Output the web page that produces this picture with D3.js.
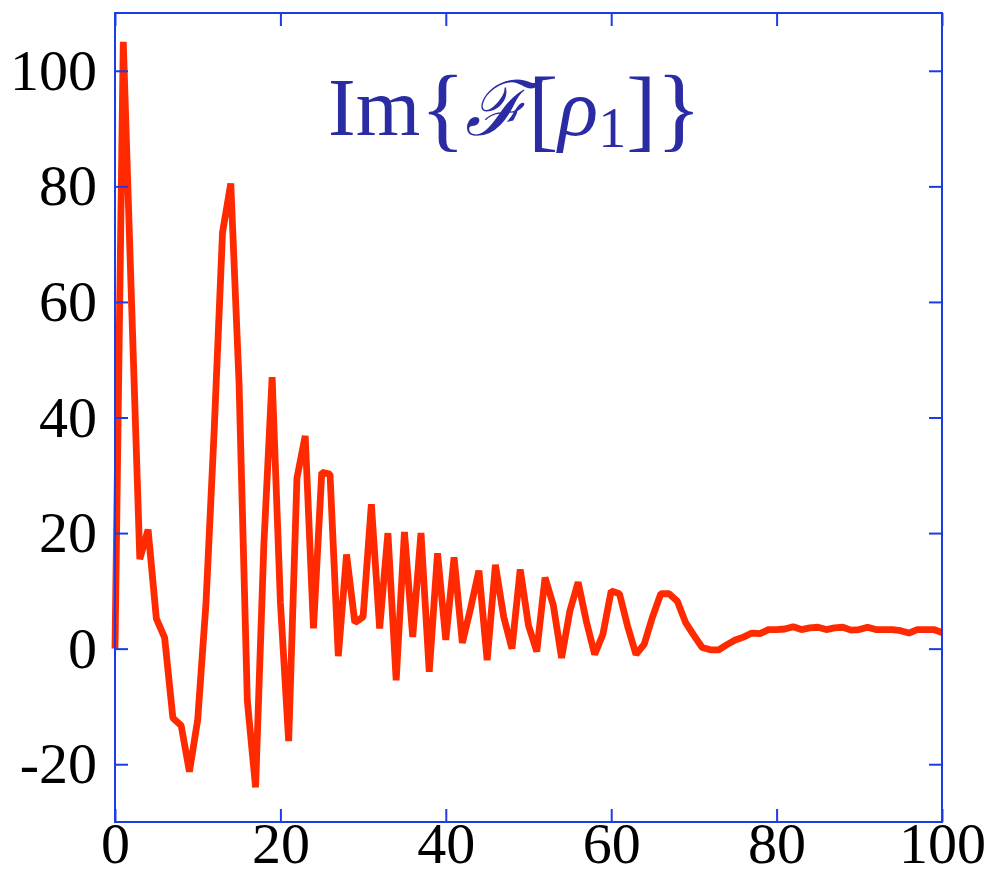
<!DOCTYPE html>
<html>
<head>
<meta charset="utf-8">
<script src="https://cdn.jsdelivr.net/npm/d3@7"></script>
<style>
  html, body { margin: 0; padding: 0; background: #fff; }
  svg { display: block; }
</style>
</head>
<body>
<svg id="chart" width="984" height="869"></svg>
<script>
// Imaginary part of the transform of rho_1, sampled at integer frequencies 0..100
const freq = d3.range(0, 101);
const imValues = [
  0, 105, 60, 15.5, 20.6, 5.2, 1.9, -12, -13.3, -21.3,
  -12.3, 7.8, 38, 72, 80.5, 46, -9, -24, 18, 47,
  8, -16, 29.5, 36.8, 3.5, 30.5, 30.2, -1.3, 16.3, 4.5,
  5.5, 25, 3.5, 20, -5.5, 20.2, 2, 20, -4, 16.5,
  1.5, 15.8, 1, 7, 13.5, -2, 14.5, 5.5, 0, 13.7,
  4, -0.5, 12.3, 7.5, -1.6, 6.5, 11.5, 4.7, -1, 2.5,
  10, 9.5, 3.8, -1, 0.8, 5.5, 9.5, 9.5, 8.2, 4.5,
  2.3, 0.2, -0.2, -0.2, 0.7, 1.5, 2, 2.7, 2.6, 3.3,
  3.3, 3.4, 3.8, 3.3, 3.6, 3.7, 3.3, 3.6, 3.7, 3.2,
  3.3, 3.7, 3.3, 3.3, 3.3, 3.1, 2.7, 3.3, 3.3, 3.3,
  2.8
];
const xTicks = [0, 20, 40, 60, 80, 100];
const yTicks = [-20, 0, 20, 40, 60, 80, 100];
const xDomain = [0, 100];
const yDomain = [-30, 110];

const svg = d3.select("#chart");
const margin = { left: 115, right: 42, top: 13, bottom: 47 };
const W = 984, H = 869;
const iw = W - margin.left - margin.right;
const ih = H - margin.top - margin.bottom;

const frameColor = "#1b3ce6";
const lineColor = "#ff2a00";
const titleColor = "#2b2ba3";
const labelFont = "'Liberation Serif', 'Times New Roman', serif";

const x = d3.scaleLinear().domain(xDomain).range([0, iw]);
const y = d3.scaleLinear().domain(yDomain).range([ih, 0]);

// plain hyphen for negative labels
const fmt = d => String(d);

const g = svg.append("g").attr("transform", `translate(${margin.left},${margin.top})`);

// data line
const line = d3.line()
  .x((d, i) => x(freq[i]))
  .y(d => y(d));

g.append("path")
  .datum(imValues)
  .attr("fill", "none")
  .attr("stroke", lineColor)
  .attr("stroke-width", 6.8)
  .attr("stroke-linejoin", "bevel")
  .attr("d", line);

// axes with inward ticks on all four sides
const tickLen = 13;
function styleAxis(sel, showLabels) {
  sel.select(".domain").remove();
  sel.selectAll(".tick line").attr("stroke", frameColor).attr("stroke-width", 2);
  sel.selectAll(".tick text")
    .attr("fill", "#000")
    .style("font-family", labelFont)
    .style("font-size", "58px");
  if (!showLabels) sel.selectAll(".tick text").remove();
}

g.append("g")
  .call(d3.axisLeft(y).tickValues(yTicks).tickSizeInner(-tickLen).tickSizeOuter(0).tickPadding(18).tickFormat(fmt))
  .call(s => styleAxis(s, true));

g.append("g")
  .attr("transform", `translate(${iw},0)`)
  .call(d3.axisRight(y).tickValues(yTicks).tickSizeInner(-tickLen).tickSizeOuter(0))
  .call(s => styleAxis(s, false));

g.append("g")
  .attr("transform", `translate(0,${ih})`)
  .call(d3.axisBottom(x).tickValues(xTicks).tickSizeInner(-tickLen).tickSizeOuter(0).tickPadding(0).tickFormat(fmt))
  .call(s => styleAxis(s, true));

g.append("g")
  .call(d3.axisTop(x).tickValues(xTicks).tickSizeInner(-tickLen).tickSizeOuter(0))
  .call(s => styleAxis(s, false));

// frame
g.append("rect")
  .attr("x", 0).attr("y", 0)
  .attr("width", iw).attr("height", ih)
  .attr("fill", "none")
  .attr("stroke", frameColor)
  .attr("stroke-width", 2);

// title: Im{F[rho_1]}
const title = svg.append("text")
  .attr("x", 328)
  .attr("y", 135)
  .attr("fill", titleColor)
  .style("font-family", labelFont)
  .style("font-size", "83px");
title.append("tspan").text("Im");
title.append("tspan").style("font-size", "94px").attr("dy", 5).text("{");
title.append("tspan").attr("dy", -5).style("font-style", "italic").style("font-size", "76px").text("\u2131");
title.append("tspan").style("font-size", "90px").attr("dy", 5).text("[");
title.append("tspan").attr("dy", -5).style("font-style", "italic").text("\u03C1");
title.append("tspan").style("font-size", "56px").attr("dy", 12).text("1");
title.append("tspan").style("font-size", "90px").attr("dy", -7).text("]");
title.append("tspan").style("font-size", "94px").text("}");
</script>
</body>
</html>
